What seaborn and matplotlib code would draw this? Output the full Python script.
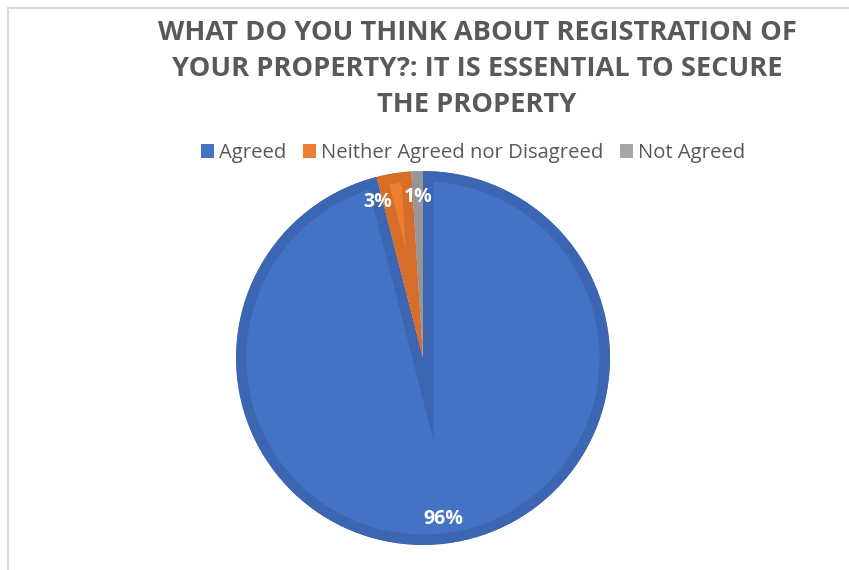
import matplotlib
matplotlib.use("Agg")
import matplotlib.pyplot as plt
import seaborn as sns
import numpy as np
from matplotlib.patches import Patch
from matplotlib.lines import Line2D

categories = ["Agreed", "Neither Agreed nor Disagreed", "Not Agreed"]
values = [96, 3, 1]
pct_labels = ["96%", "3%", "1%"]
title_lines = ["WHAT DO YOU THINK ABOUT REGISTRATION OF",
               "YOUR PROPERTY?: IT IS ESSENTIAL TO SECURE",
               "THE PROPERTY"]

face_colors = ["#4472C4", "#ED7D31", "#A5A5A5"]
band_colors = ["#3D66B2", "#D66E29", "#969696"]

sns.set_theme(style="white")
plt.rcParams['font.family'] = ['Open Sans', 'DejaVu Sans']

fig = plt.figure(figsize=(8.49, 5.70), dpi=100)
W, H = 849, 570

# border lines (chart frame)
fig.add_artist(Line2D([8/W, 8/W], [0, 1 - 8/H], color="#D9D9D9", lw=1.6, transform=fig.transFigure))
fig.add_artist(Line2D([8/W, 1], [1 - 8/H, 1 - 8/H], color="#D9D9D9", lw=1.6, transform=fig.transFigure))

cx, cy, r = 423, 358, 187
ax = fig.add_axes([(cx - r)/W, (H - cy - r)/H, 2*r/W, 2*r/H])
wedges, _ = ax.pie(values, colors=face_colors, startangle=90, counterclock=False,
                   radius=1.0, wedgeprops=dict(linewidth=0))
for w, bc in zip(wedges, band_colors):
    w.set_edgecolor(bc)
    w.set_linewidth(15)
    w.set_joinstyle("miter")
    w.set_clip_on(True)
    w.set_clip_path(w)
ax.set_xlim(-1.0, 1.0)
ax.set_ylim(-1.0, 1.0)
ax.set_aspect("equal")
ax.axis("off")

# percentage labels
label_angle_shift = [0, 7, 0]
label_dist = [0.87, 0.87, 0.86]
for w, lab, sh, d in zip(wedges, pct_labels, label_angle_shift, label_dist):
    ang = np.deg2rad((w.theta1 + w.theta2) / 2 + sh)
    ax.text(d*np.cos(ang), d*np.sin(ang), lab, color="white", fontsize=14,
            fontweight="bold", ha="center", va="center")

fig.text(477/W, 1 - 20/H, "\n".join(title_lines), ha="center", va="top",
         fontsize=19.6, fontweight="bold", color="#595959", linespacing=1.5)

handles = [Patch(facecolor=c, edgecolor="none") for c in face_colors]
fig.legend(handles, categories, loc="center", bbox_to_anchor=(473/W, 1 - 153/H),
           ncol=3, frameon=False, fontsize=14.6, labelcolor="#595959",
           handlelength=0.65, handleheight=0.65, handletextpad=0.25, columnspacing=0.8)

fig.savefig("out.png", dpi=100)
